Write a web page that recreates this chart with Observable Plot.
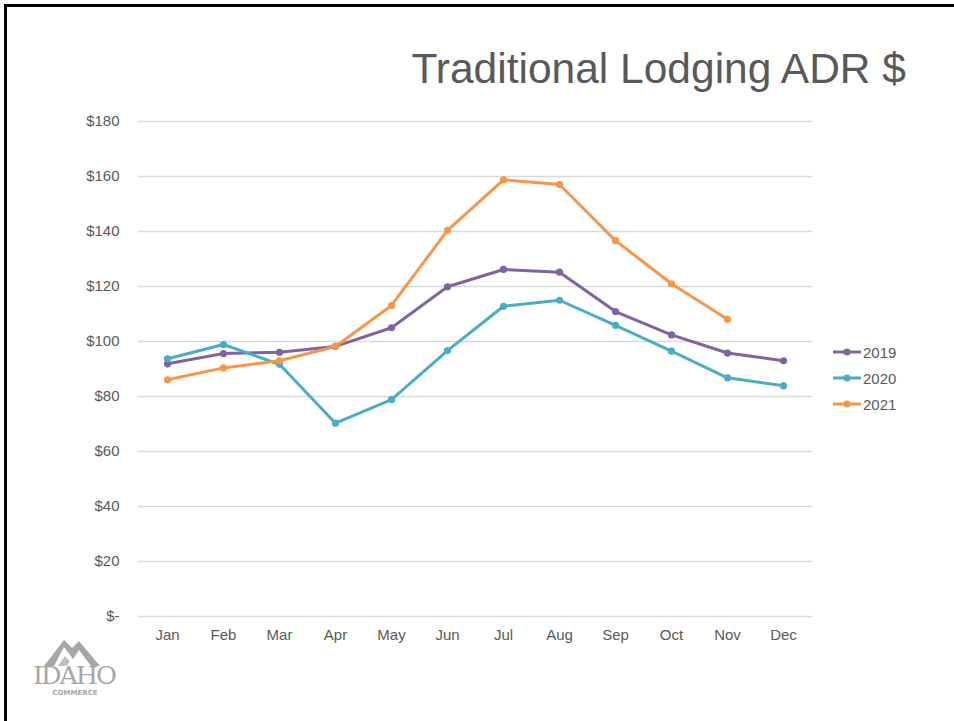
<!DOCTYPE html>
<html>
<head>
<meta charset="utf-8">
<script src="https://cdn.jsdelivr.net/npm/d3@7"></script>
<script src="https://cdn.jsdelivr.net/npm/@observablehq/plot@0.6"></script>
<style>
  html, body { margin: 0; padding: 0; background: #fff; }
  #page { position: relative; width: 954px; height: 721px; overflow: hidden; font-family: "Liberation Sans", Arial, sans-serif; }
  #frameTop { position: absolute; left: 4px; top: 4px; width: 950px; height: 3px; background: #000; }
  #frameLeft { position: absolute; left: 4px; top: 4px; width: 3px; height: 717px; background: #000; }
  #title { position: absolute; right: 48px; top: 45px; font-family: "Liberation Sans", Arial, sans-serif; font-size: 42.5px; color: #595959; white-space: nowrap; z-index: 2; }
  #chart { position: absolute; left: 0; top: 0; }
  #legend { position: absolute; left: 832px; top: 339px; font-size: 15px; color: #595959; z-index: 2; }
  .lg { height: 26px; display: flex; align-items: center; }
  .lg svg { margin-right: 1px; }
  #logo { position: absolute; left: 28px; top: 636px; z-index: 2; }
</style>
</head>
<body>
<div id="page">
  <div id="frameTop"></div>
  <div id="frameLeft"></div>
  <div id="title">Traditional Lodging ADR $</div>
  <div id="chart"></div>
  <div id="legend"></div>
  <div id="logo">
    <svg width="96" height="62" viewBox="0 0 96 62">
      <polygon points="16,30 36,4 44,12 51,5 72,30 63,30 51,14 45,23 36,11 26,30" fill="#a6a6a6"/>
      <polygon points="30,30 37,20 42,26 38,30" fill="#bfbfbf"/>
      <text x="46" y="48" text-anchor="middle" font-family="'DejaVu Serif', serif" font-size="25" fill="#a6a6a6" letter-spacing="-2" textLength="82" lengthAdjust="spacingAndGlyphs">IDAHO</text>
      <text x="47" y="59" text-anchor="middle" font-family="'DejaVu Sans', sans-serif" font-size="7" font-weight="bold" fill="#a6a6a6">COMMERCE</text>
    </svg>
  </div>
</div>
<script>
const months = ["Jan","Feb","Mar","Apr","May","Jun","Jul","Aug","Sep","Oct","Nov","Dec"];
const years = ["2019","2020","2021"];
const adr2019 = [91.9, 95.6, 96.1, 98.2, 105.0, 119.9, 126.2, 125.2, 110.9, 102.4, 95.8, 93.0];
const adr2020 = [93.7, 98.9, 91.7, 70.3, 78.9, 96.7, 112.8, 115.0, 105.9, 96.5, 86.8, 83.9];
const adr2021 = [86.1, 90.4, 93.0, 98.2, 113.1, 140.4, 158.8, 157.1, 136.7, 121.0, 108.1];
const yTicks = [0, 20, 40, 60, 80, 100, 120, 140, 160, 180];
const colors = ["#8064A2", "#4BACC6", "#F79646"];

const series = [adr2019, adr2020, adr2021];
const data = [];
series.forEach((vals, i) => vals.forEach((v, j) => data.push({year: years[i], month: months[j], value: v})));

const chart = Plot.plot({
  width: 954,
  height: 660,
  marginLeft: 138,
  marginRight: 142,
  marginTop: 121,
  marginBottom: 44,
  style: { fontFamily: "'Liberation Sans', Arial, sans-serif", fontSize: "15px", color: "#595959", background: "transparent" },
  x: { type: "band", domain: months, padding: 0, label: null },
  y: { domain: [0, 180], label: null },
  color: { domain: years, range: colors },
  marks: [
    Plot.ruleY(yTicks, { stroke: "#d9d9d9", strokeWidth: 1.3 }),
    Plot.axisY({ ticks: yTicks, tickSize: 0, tickPadding: 19, tickFormat: d => d === 0 ? "$-" : "$" + d, label: null, fill: "#595959" }),
    Plot.axisX({ tickSize: 0, tickPadding: 13, label: null, fill: "#595959" }),
    Plot.line(data, { x: "month", y: "value", z: "year", stroke: "year", strokeWidth: 3, curve: "linear" }),
    Plot.dot(data, { x: "month", y: "value", fill: "year", r: 3.6 })
  ]
});
document.getElementById("chart").appendChild(chart);

const legend = document.getElementById("legend");
years.forEach((y, i) => {
  const row = document.createElement("div");
  row.className = "lg";
  row.innerHTML = `<svg width="30" height="10"><line x1="1" y1="5" x2="29" y2="5" stroke="${colors[i]}" stroke-width="3"/><circle cx="15" cy="5" r="3.6" fill="${colors[i]}"/></svg><span>${y}</span>`;
  legend.appendChild(row);
});
</script>
</body>
</html>
